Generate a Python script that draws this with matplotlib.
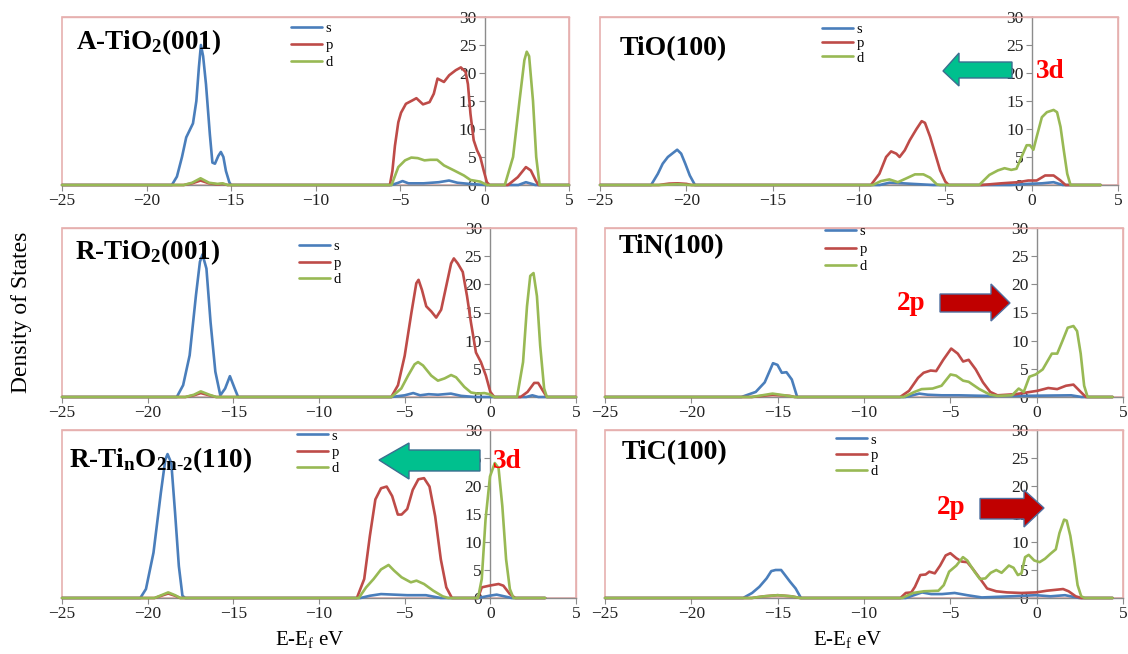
import matplotlib
matplotlib.use('Agg')
import matplotlib.pyplot as plt
from matplotlib.patches import Polygon, Rectangle

W, H = 1128, 654
plt.rcParams['font.family'] = ['Liberation Serif', 'DejaVu Serif']
plt.rcParams['mathtext.fontset'] = 'custom'
plt.rcParams['mathtext.rm'] = 'Liberation Serif'
plt.rcParams['mathtext.bf'] = 'Liberation Serif:bold'
plt.rcParams['mathtext.it'] = 'Liberation Serif:italic'

# ---------------- data (energy E-Ef in eV, DOS) ----------------
x_ticks = [-25, -20, -15, -10, -5, 0, 5]
y_ticks = [0, 5, 10, 15, 20, 25, 30]
orbitals = ['s', 'p', 'd']

# A-TiO2(001)
atio2_s_e = [-25, -18.5, -18.2, -17.9, -17.65, -17.25, -17.05, -16.9, -16.78, -16.65, -16.48, -16.25, -16.1, -15.95,
             -15.75, -15.6, -15.45, -15.3, -15.1, -15.0, -5.5, -5.1, -4.85, -4.5, -3.6, -2.7, -2.1, -1.6, -0.9, 0.1,
             2.0, 2.45, 2.8, 3.0, 5]
atio2_s_y = [0, 0, 1.5, 5, 8.5, 11, 15, 21, 25, 23, 18, 9, 4, 3.8,
             5.2, 5.9, 5, 2.5, 0.5, 0, 0, 0.4, 0.7, 0.3, 0.3, 0.5, 0.8, 0.4, 0.2, 0,
             0, 0.5, 0.2, 0, 0]
atio2_p_e = [-25, -17.8, -17.3, -16.8, -16.3, -15.8, -15.5, -15.2, -5.6, -5.45, -5.3, -5.1, -4.94, -4.65, -4.27,
             -4.03, -3.64, -3.25, -3.0, -2.78, -2.4, -2.09, -1.7, -1.4, -1.12, -0.98, -0.83, -0.64, -0.44, -0.25,
             -0.05, 0.14, 0.3, 1.39, 1.97, 2.45, 2.74, 3.03, 3.2, 5]
atio2_p_y = [0, 0, 0.3, 0.8, 0.3, 0.1, 0.2, 0, 0, 2.5, 7, 11.2, 12.9, 14.5, 15.1,
             15.5, 14.4, 14.8, 16.3, 19, 18.4, 19.6, 20.5, 21, 20.2, 18, 12.7, 8, 6.2, 5,
             2.6, 0.5, 0, 0, 1.4, 3.2, 2.6, 0.8, 0, 0]
atio2_d_e = [-25, -17.8, -17.3, -16.8, -16.3, -15.8, -15.5, -15.2, -5.5, -5.1, -4.7, -4.33, -3.95, -3.55, -3.2,
             -2.8, -2.4, -1.8, -1.22, -0.83, -0.25, 0.14, 1.2, 1.69, 2.07, 2.36, 2.5, 2.64, 2.87, 3.06, 3.26, 5]
atio2_d_y = [0, 0, 0.4, 1.2, 0.4, 0.2, 0.3, 0, 0, 3.2, 4.4, 4.9, 4.8, 4.4, 4.5,
             4.5, 3.5, 2.6, 1.7, 0.9, 0.6, 0, 0, 5, 15, 22.3, 23.8, 23, 15, 5, 0, 0]

# TiO(100)
tio_s_e = [-25, -22.04, -21.65, -21.37, -21.07, -20.78, -20.53, -20.3, -20.06, -19.8, -19.5, -8.8, -8.24, -7.45,
           -6.9, -5.7, -1.2, -0.2, 0.6, 1.27, 1.8, 4.0]
tio_s_y = [0, 0, 2, 3.8, 5, 5.7, 6.3, 5.6, 3.8, 1.7, 0, 0, 0.4, 0.3,
           0.2, 0, 0, 0.2, 0.3, 0.5, 0, 0]
tio_p_e = [-25, -21.6, -21.0, -20.5, -20.0, -19.7, -9.31, -8.82, -8.43, -8.14, -7.84, -7.65, -7.35, -7.06, -6.67,
           -6.37, -6.18, -5.88, -5.59, -5.3, -5.0, -4.8, -2.9, -1.76, -0.78, -0.2, 0.29, 0.78, 1.27, 1.67, 1.96, 4.0]
tio_p_y = [0, 0, 0.25, 0.3, 0.2, 0, 0, 2, 5, 6, 5.6, 5, 6.2, 8, 10,
           11.4, 11.1, 8.6, 5.6, 2.6, 0.6, 0, 0, 0.3, 0.5, 0.8, 0.8, 1.7, 1.7, 0.8, 0, 0]
tio_d_e = [-25, -21.5, -20.5, -19.8, -9.2, -8.73, -8.24, -7.75, -7.25, -6.76, -6.27, -5.88, -5.49, -5.3, -3.04,
           -2.45, -1.96, -1.57, -1.18, -0.88, -0.59, -0.29, -0.1, 0.1, 0.29, 0.59, 0.88, 1.27, 1.47, 1.67, 1.86,
           2.06, 2.25, 4.0]
tio_d_y = [0, 0, 0.15, 0, 0, 0.7, 1.0, 0.5, 1.2, 1.9, 1.9, 1.3, 0.1, 0, 0,
           1.8, 2.6, 3.0, 2.7, 2.9, 5, 7.1, 7.1, 6.3, 8.6, 12.1, 13, 13.4, 13, 10.4, 6.2,
           2, 0, 0]

# R-TiO2(001)
rtio2_s_e = [-25, -18.3, -17.93, -17.55, -17.18, -16.95, -16.8, -16.57, -16.33, -16.05, -15.76, -15.48, -15.2,
             -14.92, -14.72, -5.78, -5.0, -4.5, -4.1, -3.6, -3.06, -2.3, -1.7, -0.9, 2.1, 2.45, 2.8, 5]
rtio2_s_y = [0, 0, 2.1, 7.4, 18.1, 24, 25.3, 22.8, 13.3, 4.5, 0.3, 1.5, 3.7,
             1.5, 0, 0, 0.3, 0.7, 0.3, 0.5, 0.4, 0.6, 0.2, 0, 0, 0.3, 0, 0]
rtio2_p_e = [-25, -17.8, -17.3, -16.9, -16.4, -16.0, -5.78, -5.39, -5.0, -4.61, -4.32, -4.19, -3.99, -3.74, -3.45,
             -3.16, -2.87, -2.58, -2.29, -2.13, -1.9, -1.61, -1.36, -1.13, -0.84, -0.55, -0.26, 0.0, 0.23, 1.77,
             2.17, 2.56, 2.79, 3.05, 3.3, 5]
rtio2_p_y = [0, 0, 0.3, 0.7, 0.3, 0, 0, 2.1, 7.3, 14.9, 20.2, 20.8, 19, 16.1, 15.2,
             14.1, 15.5, 19.6, 23.7, 24.6, 23.7, 22.2, 17.9, 13.2, 7.9, 6.2, 3.8, 0.9, 0, 0,
             0.9, 2.5, 2.5, 1.2, 0, 0]
rtio2_d_e = [-25, -17.8, -17.3, -16.9, -16.4, -16.0, -5.78, -5.2, -4.8, -4.42, -4.22, -3.93, -3.45, -3.06, -2.67,
             -2.29, -2.0, -1.52, -1.13, -0.74, -0.35, -0.06, 0.23, 1.56, 1.91, 2.14, 2.33, 2.52, 2.72, 2.91, 3.14,
             3.3, 5]
rtio2_d_y = [0, 0, 0.4, 1.0, 0.4, 0, 0, 1.5, 3.8, 5.8, 6.2, 5.6, 3.8, 2.9, 3.3,
             3.9, 3.5, 1.8, 0.8, 0.6, 0.7, 0.5, 0, 0, 6.2, 16.1, 21.5, 22, 17.9, 9.1, 1.5,
             0, 0]

# TiN(100)
tin_s_e = [-25, -17.1, -16.27, -15.75, -15.27, -15.01, -14.76, -14.49, -14.18, -13.87, -7.6, -6.8, -6.3, -5.5,
           -4.5, -3.0, -1.0, 0.5, 2.0, 2.6, 4.4]
tin_s_y = [0, 0, 0.9, 2.6, 6, 5.7, 4.3, 4.4, 3.1, 0, 0, 0.6, 0.4, 0.3,
           0.3, 0.2, 0.2, 0.25, 0.3, 0, 0]
tin_p_e = [-25, -16.5, -15.3, -14.3, -14.0, -7.91, -7.39, -6.87, -6.55, -6.14, -5.82, -5.41, -4.95, -4.57, -4.26,
           -3.94, -3.53, -3.11, -2.69, -2.27, -1.22, -0.38, 0.04, 0.67, 1.19, 1.7, 2.13, 2.55, 2.85, 4.4]
tin_p_y = [0, 0, 0.4, 0.2, 0, 0, 1.1, 3.4, 4.3, 4.7, 4.6, 6.6, 8.6, 7.7, 6.3,
           6.6, 4.9, 2.6, 0.9, 0.3, 0.5, 0.9, 1.1, 1.6, 1.4, 2, 2.2, 0.9, 0, 0]
tin_d_e = [-25, -16.5, -15.3, -14.6, -14.0, -7.7, -7.08, -6.66, -6.03, -5.51, -4.99, -4.67, -4.26, -3.94, -3.32,
           -2.69, -2.27, -1.43, -1.04, -0.75, -0.42, -0.06, 0.35, 0.88, 1.19, 1.5, 1.8, 2.13, 2.34, 2.55, 2.75,
           2.95, 4.4]
tin_d_y = [0, 0, 0.6, 0.3, 0, 0, 0.9, 1.4, 1.5, 2, 4, 3.8, 2.9, 2.7, 1.4,
           0.4, 0.2, 0.3, 1.5, 0.9, 3.6, 4, 4.9, 7.7, 7.7, 10, 12.3, 12.6, 11.7, 7.7, 2,
           0, 0]

# R-TinO2n-2(110)
rtino_s_e = [-25, -20.43, -20.1, -19.66, -19.23, -18.97, -18.84, -18.62, -18.4, -18.18, -17.97, -17.81, -7.58,
             -7.03, -6.38, -4.85, -3.76, -2.89, -0.72, -0.06, 0.37, 0.81, 1.25, 3.2]
rtino_s_y = [0, 0, 1.6, 8.1, 18.8, 24.7, 25.7, 24.1, 15.2, 5.7, 0.4, 0, 0,
             0.4, 0.7, 0.5, 0.5, 0, 0, 0.4, 0.6, 0.3, 0, 0]
rtino_p_e = [-25, -19.6, -19.2, -18.8, -18.4, -18.1, -7.79, -7.36, -7.03, -6.71, -6.38, -6.05, -5.73, -5.4, -5.18,
             -4.85, -4.53, -4.2, -3.87, -3.55, -3.22, -2.89, -2.57, -2.24, -0.72, -0.5, -0.06, 0.48, 0.76, 1.14,
             1.46, 3.2]
rtino_p_y = [0, 0, 0.4, 0.8, 0.4, 0, 0, 3.4, 11.1, 17.6, 19.6, 19.9, 18.2, 14.9, 14.9,
             15.9, 19.3, 21.2, 21.4, 19.9, 14.6, 6.9, 1.9, 0, 0, 1.9, 2.2, 2.5, 2.2, 0.7,
             0, 0]
rtino_d_e = [-25, -19.6, -19.2, -18.8, -18.4, -18.1, -7.68, -7.25, -6.81, -6.38, -5.94, -5.62, -5.18, -4.64, -4.31,
             -3.87, -3.33, -2.78, -2.46, -0.72, -0.5, -0.28, -0.02, 0.26, 0.48, 0.7, 0.92, 1.14, 1.35, 3.2]
rtino_d_y = [0, 0, 0.5, 1.0, 0.5, 0, 0, 1.9, 3.4, 5.1, 5.9, 4.9, 3.7, 2.8, 3.1,
             2.5, 1.3, 0.3, 0, 0, 3.4, 14, 21.7, 24.1, 23.2, 16.4, 6.9, 1.6, 0, 0]

# TiC(100)
tic_s_e = [-25, -17.0, -16.48, -16.06, -15.64, -15.37, -15.12, -14.8, -14.6, -14.28, -13.96, -13.65, -7.58, -6.64,
           -6.11, -5.48, -4.75, -4.02, -3.18, -1.5, -0.04, 0.8, 1.64, 2.47, 4.4]
tic_s_y = [0, 0, 0.9, 2, 3.5, 4.8, 5, 5, 4.2, 2.9, 1.7, 0, 0, 1.0,
           0.7, 0.7, 0.9, 0.5, 0.1, 0.3, 0.5, 0.3, 0.5, 0, 0]
tic_p_e = [-25, -16.5, -15.8, -15.0, -14.2, -13.7, -7.89, -7.58, -7.26, -7.05, -6.74, -6.43, -6.22, -5.9, -5.59,
           -5.27, -5.0, -4.65, -4.33, -4.02, -3.7, -3.29, -2.87, -2.34, -1.72, -0.88, -0.04, 0.59, 1.22, 1.53,
           1.85, 2.26, 2.58, 4.4]
tic_p_y = [0, 0, 0.3, 0.5, 0.3, 0, 0, 0.9, 1.0, 2, 4.1, 4.2, 4.7, 4.4, 5.8,
           7.6, 8.0, 7.1, 6.5, 6.4, 5.2, 3.5, 1.7, 1.2, 1.0, 0.9, 1.0, 1.3, 1.5, 1.6,
           1.2, 0.3, 0, 0]
tic_d_e = [-25, -16.5, -15.8, -15.0, -14.2, -13.7, -7.79, -7.16, -6.53, -5.69, -5.38, -5.07, -4.65, -4.27, -4.02,
           -3.6, -3.29, -2.97, -2.66, -2.34, -2.03, -1.61, -1.34, -1.09, -0.88, -0.67, -0.46, -0.14, 0.17, 0.48,
           0.8, 1.11, 1.32, 1.59, 1.74, 1.95, 2.16, 2.37, 2.58, 2.79, 4.4]
tic_d_y = [0, 0, 0.3, 0.5, 0.3, 0, 0, 0.9, 1.2, 1.3, 2.3, 4.7, 5.8, 7.3, 6.7,
           4.7, 3.4, 3.5, 4.5, 5.0, 4.5, 5.8, 5.4, 4.1, 4.4, 7.3, 7.7, 6.7, 6.4, 7.0,
           7.9, 8.7, 11.6, 14.0, 13.8, 11.1, 7.0, 2.3, 0.3, 0, 0]

titles = [r'A-TiO$_\mathbf{2}$(001)', 'TiO(100)', r'R-TiO$_\mathbf{2}$(001)', 'TiN(100)',
          r'R-Ti$_\mathbf{n}$O$_{\mathbf{2n}\text{-}\mathbf{2}}$(110)', 'TiC(100)']

# ---------------- styling / layout (pixels) ----------------
BLUE, RED, GREEN = '#4A7EBB', '#BE4B48', '#98B954'
PINK, GRAY = '#E6B0AF', '#8C8C8C'

series = [
    ((atio2_s_e, atio2_s_y), (atio2_p_e, atio2_p_y), (atio2_d_e, atio2_d_y)),
    ((tio_s_e, tio_s_y), (tio_p_e, tio_p_y), (tio_d_e, tio_d_y)),
    ((rtio2_s_e, rtio2_s_y), (rtio2_p_e, rtio2_p_y), (rtio2_d_e, rtio2_d_y)),
    ((tin_s_e, tin_s_y), (tin_p_e, tin_p_y), (tin_d_e, tin_d_y)),
    ((rtino_s_e, rtino_s_y), (rtino_p_e, rtino_p_y), (rtino_d_e, rtino_d_y)),
    ((tic_s_e, tic_s_y), (tic_p_e, tic_p_y), (tic_d_e, tic_d_y)),
]
# axes boxes: left, right, top, bottom (px)
boxes = [(62, 569, 17, 185), (600, 1118, 17, 185),
         (62, 576, 228, 397), (605, 1123, 228, 397),
         (62, 576, 430, 598), (605, 1123, 430, 598)]
# title (left px, center y px, size)
title_pos = [(76, 42, 19.5), (620, 49, 20), (75, 252, 19.5), (619, 247, 20), (69, 460, 19.5), (622, 453, 20)]
# legend (handle left px, first row centre y px, row spacing px)
legend_pos = [(291, 29, 17), (822, 29.5, 14.5), (299, 247, 16.5), (825, 232, 17.5), (297, 436, 16.7),
              (836, 440, 15.8)]

fig = plt.figure(figsize=(W / 100, H / 100), dpi=100)

LEG_FS = 10.5
fs_px = LEG_FS * 100 / 72.0

for i in range(6):
    l, r, t, b = boxes[i]
    ax = fig.add_axes([l / W, 1 - b / H, (r - l) / W, (b - t) / H])
    ax.set_xlim(-25, 5)
    ax.set_ylim(0, 30)
    handles = []
    for (e, y), lab, col in zip(series[i], orbitals, [BLUE, RED, GREEN]):
        ln, = ax.plot(e, y, color=col, lw=1.9, label=lab, zorder=3, solid_joinstyle='round',
                      solid_capstyle='round', clip_on=False)
        handles.append(ln)
    ax.set_xticks(x_ticks)
    ax.set_yticks(y_ticks)
    ax.spines['left'].set_position(('data', 0))
    ax.spines['left'].set_color(GRAY)
    ax.spines['bottom'].set_color(GRAY)
    ax.spines['top'].set_color(PINK)
    ax.spines['right'].set_color(PINK)
    for s in ax.spines.values():
        s.set_linewidth(1.0)
    ax.add_patch(Rectangle((0, 0), 1, 1, transform=ax.transAxes, fill=False, ec=PINK, lw=1.2,
                           clip_on=False, zorder=0.5))
    ax.tick_params(axis='both', direction='out', length=4, width=0.8, color=GRAY, labelsize=12.5, pad=2,
                   labelcolor='#222222')
    # title
    tx, ty, tfs = title_pos[i]
    ax.text((tx - l) / (r - l), (b - ty) / (b - t), titles[i], transform=ax.transAxes, fontsize=tfs,
            fontweight='bold', ha='left', va='center', zorder=5)
    # legend
    lx, ly, sp = legend_pos[i]
    row_h = 0.92 * fs_px
    lsp = (sp - row_h) / fs_px
    top = ly - row_h / 2
    ax.legend(handles=handles, loc='upper left', bbox_to_anchor=((lx - l) / (r - l), (b - top) / (b - t)),
              frameon=False, fontsize=LEG_FS, handlelength=2.1, handletextpad=0.25, labelspacing=lsp,
              borderpad=0, borderaxespad=0)


def arrow(tail, base, tip, tipy, st, sb, ht, hb, fc, ec):
    verts = [(tail, st), (base, st), (base, ht), (tip, tipy), (base, hb), (base, sb), (tail, sb)]
    verts = [(x / W, 1 - y / H) for x, y in verts]
    fig.add_artist(Polygon(verts, closed=True, transform=fig.transFigure, fc=fc, ec=ec, lw=1.0, zorder=6))


GREEN_ARROW, RED_ARROW = '#00C08E', '#C00000'
arrow(1012, 959, 943, 71, 62, 78, 53, 86, GREEN_ARROW, '#3B6E8F')
arrow(480, 409, 379, 460, 450, 471, 443, 479, GREEN_ARROW, '#3B6E8F')
arrow(940, 991, 1010, 303, 294, 312, 284, 321, RED_ARROW, '#4F6FA0')
arrow(980, 1024, 1044, 508, 498.5, 519, 490, 527, RED_ARROW, '#4F6FA0')

for (x, y, s) in [(1036, 71, '3d'), (493, 462, '3d'), (897, 304, '2p'), (937, 508, '2p')]:
    fig.text(x / W, 1 - y / H, s, color='#FF0000', fontsize=19.5, fontweight='bold', ha='left', va='center',
             zorder=7)

fig.text(22 / W, 1 - 312 / H, 'Density of States', rotation=90, ha='center', va='center', fontsize=17)
fig.text(310 / W, 1 - 640 / H, r'E-E$_\mathrm{f}$ eV', ha='center', va='center', fontsize=15)
fig.text(848 / W, 1 - 640 / H, r'E-E$_\mathrm{f}$ eV', ha='center', va='center', fontsize=15)

fig.savefig('out.png', dpi=100)
